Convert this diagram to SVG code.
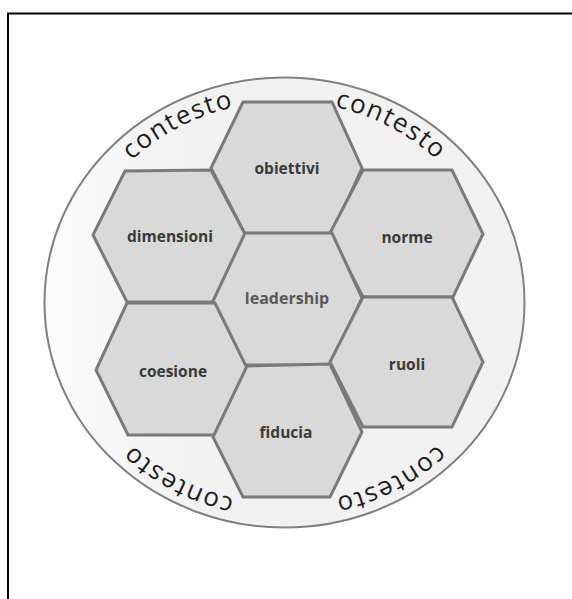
<svg xmlns="http://www.w3.org/2000/svg" width="572" height="599" viewBox="0 0 572 599">
  <defs>
    <linearGradient id="bg" x1="0" y1="0" x2="1" y2="0">
      <stop offset="0" stop-color="#fbfbfb"/>
      <stop offset="0.3" stop-color="#f2f2f2"/>
      <stop offset="1" stop-color="#f1f1f1"/>
    </linearGradient>
    <path id="arcTL" d="M 75.9 250.5 A 216 201 0 0 1 340.4 108.3"/>
    <path id="arcTR" d="M 228.6 108.3 A 216 201 0 0 1 493.1 250.5"/>
    <path id="arcBR" d="M 493.1 354.5 A 216 201 0 0 1 228.6 496.7"/>
    <path id="arcBL" d="M 340.4 496.7 A 216 201 0 0 1 75.9 354.5"/>
  </defs>
  <style>
    .hex { fill: #d9d9d9; stroke: #7a7a7a; stroke-width: 3; stroke-linejoin: miter; }
    .lbl { font-family: "Open Sans", "Liberation Sans", sans-serif; font-weight: bold; font-size: 15.5px; fill: #3a3a3a; text-anchor: middle; }
    .lead { font-family: "Open Sans", "Liberation Sans", sans-serif; font-weight: bold; font-size: 16px; fill: #595959; text-anchor: middle; }
    .ctx { font-family: "Open Sans", "Liberation Sans", sans-serif; font-size: 26px; letter-spacing: 1.5px; fill: #1e1e1e; text-anchor: middle; }
  </style>
  <rect width="572" height="599" fill="#ffffff"/>
  <g id="frame" fill="none" stroke="#000000" stroke-width="2">
    <path d="M 8 599 L 8 13.5 L 572 13.5"/>
  </g>
  <g id="context">
    <ellipse cx="284.5" cy="302.5" rx="240" ry="225" fill="url(#bg)" stroke="#808080" stroke-width="2"/>
    <text class="ctx"><textPath href="#arcTL" startOffset="50%">contesto</textPath></text>
    <text class="ctx"><textPath href="#arcTR" startOffset="50%">contesto</textPath></text>
    <text class="ctx"><textPath href="#arcBR" startOffset="50%">contesto</textPath></text>
    <text class="ctx"><textPath href="#arcBL" startOffset="50%">contesto</textPath></text>
  </g>
  <g id="connectors"></g>
  <g id="obiettivi">
    <polygon class="hex" points="243,102 332,102 362,168 332,234 245,234 211,168"/>
    <text class="lbl" x="287" y="173.5">obiettivi</text>
  </g>
  <g id="dimensioni">
    <polygon class="hex" points="125,171 211,170 245,234 215,302 127,302 93,235"/>
    <text class="lbl" x="170" y="241.5">dimensioni</text>
  </g>
  <g id="norme">
    <polygon class="hex" points="363,170 452,170 483,234 453,297 363,297 330,233"/>
    <text class="lbl" x="407" y="242.5">norme</text>
  </g>
  <g id="leadership">
    <polygon class="hex" points="245,233 332,233 362,298 331,365 245,365 213,301"/>
    <text class="lead" x="287" y="303.5">leadership</text>
  </g>
  <g id="coesione">
    <polygon class="hex" points="127,303 215,303 247,368 215,435 128,435 96,370"/>
    <text class="lbl" x="173" y="376.5">coesione</text>
  </g>
  <g id="ruoli">
    <polygon class="hex" points="363,297 452,297 483,362 452,427 363,427 330,362"/>
    <text class="lbl" x="407" y="370">ruoli</text>
  </g>
  <g id="fiducia">
    <polygon class="hex" points="247,366 330,364 362,432 330,497 243,497 213,437"/>
    <text class="lbl" x="286" y="438">fiducia</text>
  </g>
</svg>
